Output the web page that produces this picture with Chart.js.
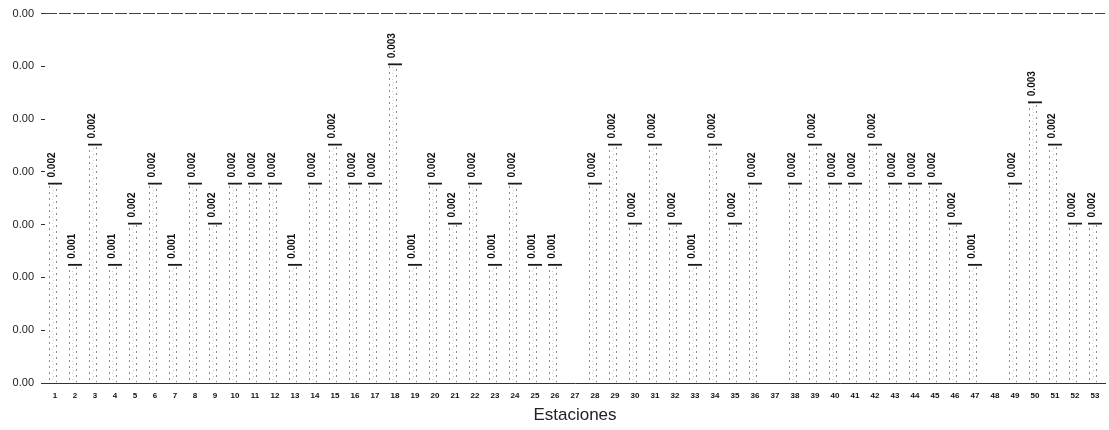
<!DOCTYPE html>
<html>
<head>
<meta charset="utf-8">
<script src="https://cdn.jsdelivr.net/npm/chart.js@4.4.1/dist/chart.umd.min.js"></script>
<style>
  html, body { margin: 0; padding: 0; background: #ffffff; }
  #wrap { width: 1109px; height: 430px; }
</style>
</head>
<body>
<div id="wrap"><canvas id="c" width="1109" height="430"></canvas></div>
<script>
// Stations along the x axis
const estaciones = [
  '1','2','3','4','5','6','7','8','9','10',
  '11','12','13','14','15','16','17','18','19','20',
  '21','22','23','24','25','26','27','28','29','30',
  '31','32','33','34','35','36','37','38','39','40',
  '41','42','43','44','45','46','47','48','49','50',
  '51','52','53'
];

// Measured value per station (null = no measurement)
const valores = [
  0.00190, 0.00113, 0.00227, 0.00113, 0.00152, 0.00190, 0.00113, 0.00190, 0.00152, 0.00190,
  0.00190, 0.00190, 0.00113, 0.00190, 0.00227, 0.00190, 0.00190, 0.00303, 0.00113, 0.00190,
  0.00152, 0.00190, 0.00113, 0.00190, 0.00113, 0.00113, null,    0.00190, 0.00227, 0.00152,
  0.00227, 0.00152, 0.00113, 0.00227, 0.00152, 0.00190, null,    0.00190, 0.00227, 0.00190,
  0.00190, 0.00227, 0.00190, 0.00190, 0.00190, 0.00152, 0.00113, null,    0.00190, 0.00267,
  0.00227, 0.00152, 0.00152
];

// Value axis range
const Y_MIN = 0;
const Y_MAX = 0.0035;
const Y_STEP = 0.0005;

// Sparse dotted texture used to fill the bars
function dottedFill() {
  const p = document.createElement('canvas');
  p.width = 20; p.height = 6;
  const g = p.getContext('2d');
  g.fillStyle = 'rgba(0,0,0,0.45)';
  g.fillRect(9, 0, 1, 2);
  g.fillRect(16, 3, 1, 2);
  g.fillStyle = 'rgba(0,0,0,0.20)';
  g.fillRect(12, 1, 1, 1);
  g.fillRect(13, 4, 1, 1);
  const ctx = document.getElementById('c').getContext('2d');
  return ctx.createPattern(p, 'repeat');
}

// Rotated value label above each bar
const barValueLabels = {
  id: 'barValueLabels',
  afterDatasetsDraw(chart) {
    const ctx = chart.ctx;
    const meta = chart.getDatasetMeta(0);
    const data = chart.data.datasets[0].data;
    ctx.save();
    ctx.font = 'bold 10px "Liberation Sans", Arial, sans-serif';
    ctx.fillStyle = '#111111';
    ctx.textAlign = 'left';
    ctx.textBaseline = 'middle';
    meta.data.forEach((bar, i) => {
      const v = data[i];
      if (v === null || v === undefined) return;
      ctx.save();
      ctx.translate(bar.x - 3, bar.y - 5);
      ctx.rotate(-Math.PI / 2);
      ctx.fillText(v.toFixed(3), 0, 0);
      ctx.restore();
    });
    ctx.restore();
  }
};

new Chart(document.getElementById('c'), {
  type: 'bar',
  data: {
    labels: estaciones,
    datasets: [{
      data: valores,
      backgroundColor: dottedFill(),
      borderColor: '#1a1a1a',
      borderWidth: { top: 2, left: 0, right: 0, bottom: 0 },
      barPercentage: 0.7,
      categoryPercentage: 1.0
    }]
  },
  options: {
    responsive: false,
    animation: false,
    devicePixelRatio: 1,
    layout: { padding: { top: 12, right: 4, left: 0, bottom: 0 } },
    plugins: {
      legend: { display: false },
      tooltip: { enabled: false }
    },
    scales: {
      x: {
        grid: { display: true, drawOnChartArea: false, drawTicks: false },
        border: { display: true, color: '#333333', width: 1 },
        ticks: {
          autoSkip: false,
          maxRotation: 0,
          padding: 8,
          color: '#111111',
          font: { family: '"Liberation Sans", Arial, sans-serif', size: 8, weight: 'bold' }
        },
        title: {
          display: true,
          text: 'Estaciones',
          color: '#222222',
          padding: { top: 2, bottom: 4 },
          font: { family: '"Liberation Sans", Arial, sans-serif', size: 17 }
        },
        afterFit(s) { s.height = 47; }
      },
      y: {
        min: Y_MIN,
        max: Y_MAX,
        grid: {
          drawOnChartArea: true,
          drawTicks: true,
          tickLength: 4,
          tickColor: '#333333',
          color: (c) => (c.tick && Math.abs(c.tick.value - Y_MAX) < 1e-9) ? '#444444' : 'rgba(0,0,0,0)'
        },
        border: { display: false, dash: [12, 2] },
        ticks: {
          stepSize: Y_STEP,
          padding: 7,
          color: '#222222',
          font: { family: '"Liberation Sans", Arial, sans-serif', size: 11 },
          callback: (v) => Number(v).toFixed(2)
        },
        afterFit(s) { s.width = 45; }
      }
    }
  },
  plugins: [barValueLabels]
});
</script>
</body>
</html>
